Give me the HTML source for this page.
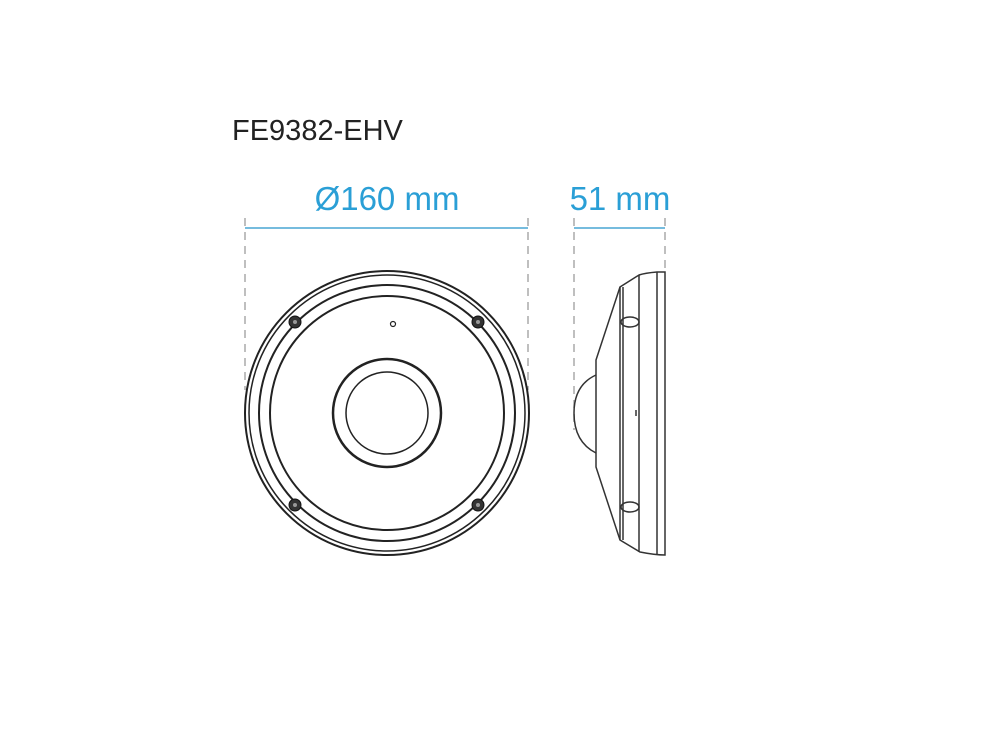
<!DOCTYPE html>
<html><head><style>body{margin:0;background:#fff}</style></head><body>
<svg width="1000" height="750" viewBox="0 0 1000 750" xmlns="http://www.w3.org/2000/svg">
<text x="232" y="140" font-family="Liberation Sans, sans-serif" font-size="29" fill="#222">FE9382-EHV</text>
<g fill="#2a9fd6" font-family="Liberation Sans, sans-serif" font-size="33">
<text x="387" y="210" text-anchor="middle">Ø160 mm</text>
<text x="620" y="210" text-anchor="middle">51 mm</text>
</g>
<g stroke="#49a6d4" stroke-width="1.5">
<line x1="245" y1="228" x2="528" y2="228"/>
<line x1="574" y1="228" x2="665" y2="228"/>
</g>
<g stroke="#aaa" stroke-width="1.5" stroke-dasharray="8,6">
<line x1="245" y1="218" x2="245" y2="390"/>
<line x1="528" y1="218" x2="528" y2="390"/>
<line x1="574" y1="218" x2="574" y2="430"/>
<line x1="665" y1="218" x2="665" y2="272"/>
</g>
<g fill="none" stroke="#222">
<circle cx="387" cy="413" r="142" stroke-width="2"/>
<circle cx="387" cy="413" r="138" stroke-width="1.5"/>
<circle cx="387" cy="413" r="128" stroke-width="2"/>
<circle cx="387" cy="413" r="117" stroke-width="2"/>
<circle cx="387" cy="413" r="54" stroke-width="2.5"/>
<circle cx="387" cy="413" r="41" stroke-width="1.5"/>
<circle cx="393" cy="324" r="2.5" stroke-width="1.2"/>
</g>
<g fill="#333" stroke="#111">
<circle cx="295" cy="322" r="6"/><circle cx="478" cy="322" r="6"/>
<circle cx="295" cy="505" r="6"/><circle cx="478" cy="505" r="6"/>
</g>
<g fill="#999"><circle cx="295" cy="322" r="2"/><circle cx="478" cy="322" r="2"/><circle cx="295" cy="505" r="2"/><circle cx="478" cy="505" r="2"/></g>
<g fill="none" stroke="#333" stroke-width="1.5">
<path d="M665 272 L657 272 Q645 273 639 275 L620 287 L596 360 L596 467 L620 540 L640 552 Q655 555 665 555 Z"/>
<path d="M596 375 Q574 385 574 413 Q574 442 596 453"/>
<line x1="620" y1="287" x2="620" y2="540"/>
<line x1="623" y1="287" x2="623" y2="540"/>
<line x1="639" y1="275" x2="639" y2="552"/>
<line x1="657" y1="272" x2="657" y2="555"/>
<ellipse cx="630" cy="322" rx="9" ry="5"/>
<ellipse cx="630" cy="507" rx="9" ry="5"/>
<line x1="636" y1="410" x2="636" y2="416"/>
</g>
</svg>
</body></html>
